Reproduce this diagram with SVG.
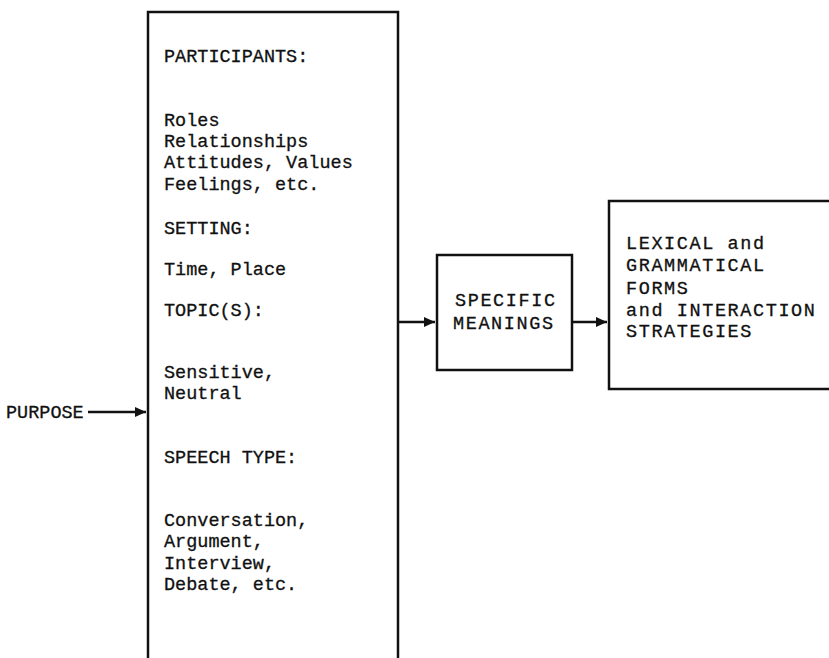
<svg xmlns="http://www.w3.org/2000/svg" width="829" height="658" viewBox="0 0 829 658">
<style>
.box{fill:none;stroke:#111;stroke-width:2.5}
.t{font-family:"Liberation Mono","Courier New","DejaVu Sans Mono",monospace;font-size:18.5px;fill:#111;stroke:#111;stroke-width:0.3}
.w{letter-spacing:1.6px}
.c{stroke:#111;stroke-width:2.5;fill:none}
</style>
<defs>
<marker id="ah" viewBox="0 0 10 10" refX="10" refY="5" markerWidth="5" markerHeight="4.4" orient="auto" markerUnits="strokeWidth">
<path d="M0,0.5 L10,5 L0,9.5 Z" fill="#111"/>
</marker>
</defs>
<g id="purpose">
<text class="t" x="6" y="418">PURPOSE</text>
</g>
<g id="context">
<path class="box" d="M148,660 V12 H398 V660"/>
<text class="t" x="164" y="62">PARTICIPANTS:</text>
<text class="t" x="164" y="126">Roles</text>
<text class="t" x="164" y="147">Relationships</text>
<text class="t" x="164" y="168">Attitudes, Values</text>
<text class="t" x="164" y="190">Feelings, etc.</text>
<text class="t" x="164" y="234">SETTING:</text>
<text class="t" x="164" y="275">Time, Place</text>
<text class="t" x="164" y="316">TOPIC(S):</text>
<text class="t" x="164" y="378">Sensitive,</text>
<text class="t" x="164" y="399">Neutral</text>
<text class="t" x="164" y="463">SPEECH TYPE:</text>
<text class="t" x="164" y="526">Conversation,</text>
<text class="t" x="164" y="547">Argument,</text>
<text class="t" x="164" y="569">Interview,</text>
<text class="t" x="164" y="590">Debate, etc.</text>
</g>
<g id="meanings">
<rect class="box" x="437" y="255" width="135" height="115"/>
<text class="t w" x="455" y="306">SPECIFIC</text>
<text class="t w" x="453" y="329">MEANINGS</text>
</g>
<g id="forms">
<path class="box" d="M830,201 H609 V389 H830"/>
<text class="t w" x="626" y="249">LEXICAL and</text>
<text class="t w" x="626" y="271">GRAMMATICAL</text>
<text class="t w" x="626" y="294">FORMS</text>
<text class="t w" x="626" y="316">and INTERACTION</text>
<text class="t w" x="626" y="337">STRATEGIES</text>
</g>
<g id="connectors">
<line class="c" x1="88" y1="412" x2="146" y2="412" marker-end="url(#ah)"/>
<line class="c" x1="399" y1="322" x2="435" y2="322" marker-end="url(#ah)"/>
<line class="c" x1="573" y1="322" x2="607" y2="322" marker-end="url(#ah)"/>
</g>
</svg>
